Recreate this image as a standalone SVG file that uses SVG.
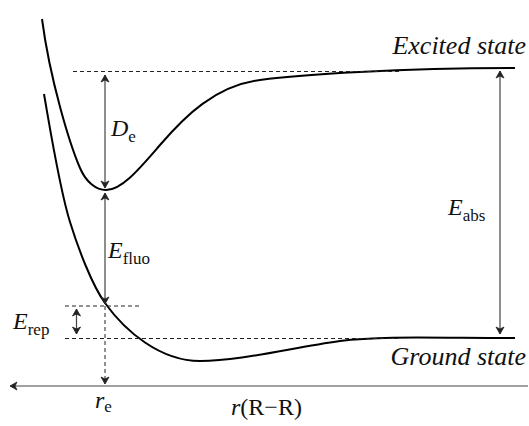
<svg xmlns="http://www.w3.org/2000/svg" width="529" height="426" viewBox="0 0 529 426">
<style>
.curve{fill:none;stroke:#000;stroke-width:2}
.dash{fill:none;stroke:#222;stroke-width:1;stroke-dasharray:4 3}
.arr{fill:none;stroke:#444;stroke-width:1.2}
.t{fill:#111}
.it{font-style:italic}
.big{font-size:24px}
.sub{font-size:17px}
.state{font-size:26px;font-style:italic}
</style>
<defs>
<marker id="ah" viewBox="-8 -5 9 10" refX="0" refY="0" markerWidth="9" markerHeight="10" markerUnits="userSpaceOnUse" orient="auto-start-reverse">
<path d="M-7,-4 L0,0 L-7,4 L-5,0 Z" fill="#222" stroke="#222" stroke-width="0.8" stroke-linejoin="round"/>
</marker>
</defs>
<rect width="529" height="426" fill="#fff"/>
<g id="curves">
<path id="excited" class="curve" d="M42,19 C50,80 70,145 80,168 C86,182 96,190 106,190 C122,190 140,168 160,145 C185,116 215,86 260,80 C300,74.7 400,68 515,68"/>
<path id="ground" class="curve" d="M44,94 C52,140 60,190 70,222 C78,248 92,285 105,303 C125,331 160,361 200,361 C240,361 290,348 340,341 C380,335.5 440,338 515,338"/>
</g>
<g id="connectors">
<line class="dash" x1="73" y1="71.5" x2="400" y2="71.5"/>
<line class="dash" x1="65" y1="306" x2="142" y2="306"/>
<line class="dash" x1="65" y1="338.5" x2="400" y2="338.5"/>
<line class="dash" x1="105" y1="306" x2="105" y2="384" marker-end="url(#ah)"/>
<line class="arr" x1="105" y1="75" x2="105" y2="188" marker-start="url(#ah)" marker-end="url(#ah)"/>
<line class="arr" x1="105" y1="193" x2="105" y2="304" marker-start="url(#ah)" marker-end="url(#ah)"/>
<line class="arr" x1="76.5" y1="309" x2="76.5" y2="334" marker-start="url(#ah)" marker-end="url(#ah)"/>
<line class="arr" x1="500" y1="71" x2="500" y2="334" stroke="#666" stroke-width="1.5" marker-start="url(#ah)" marker-end="url(#ah)"/>
<line class="arr" x1="528" y1="386" x2="10" y2="386" marker-end="url(#ah)"/>
</g>
<g id="labels" font-family="'Liberation Serif', 'DejaVu Serif', serif">
<text class="t state" x="526" y="54" text-anchor="end">Excited state</text>
<text class="t state" x="526" y="365" text-anchor="end">Ground state</text>
<text class="t big" x="111" y="136"><tspan class="it">D</tspan><tspan class="sub" dy="6">e</tspan></text>
<text class="t big" x="108" y="258"><tspan class="it">E</tspan><tspan class="sub" dy="6">fluo</tspan></text>
<text class="t big" x="13" y="329"><tspan class="it">E</tspan><tspan class="sub" dy="6">rep</tspan></text>
<text class="t big" x="448" y="215"><tspan class="it">E</tspan><tspan class="sub" dy="6">abs</tspan></text>
<text class="t big" x="95" y="408"><tspan class="it">r</tspan><tspan class="sub" dy="4">e</tspan></text>
<text class="t big" x="231" y="415"><tspan class="it">r</tspan>(R−R)</text>
</g>
</svg>
